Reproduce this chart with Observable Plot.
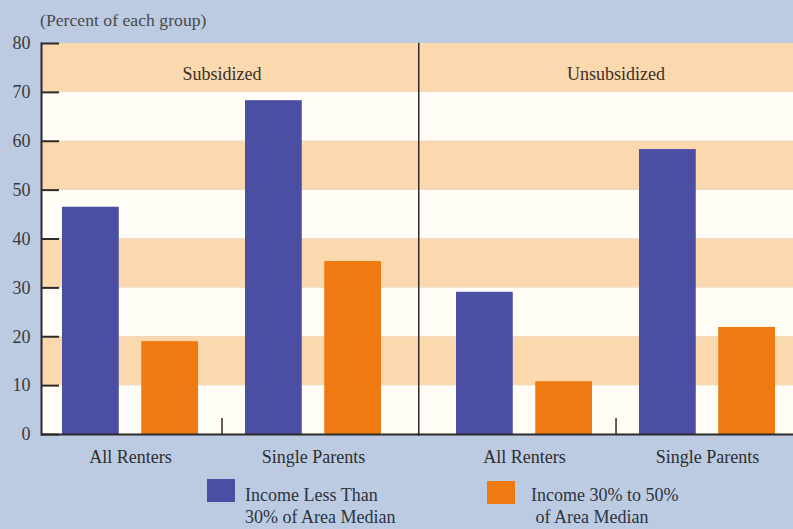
<!DOCTYPE html>
<html><head><meta charset="utf-8">
<script src="https://cdn.jsdelivr.net/npm/d3@7"></script>
<script src="https://cdn.jsdelivr.net/npm/@observablehq/plot@0.6"></script>
<style>
html,body{margin:0;padding:0;background:#bccbe2;width:793px;height:529px;overflow:hidden;font-family:"Liberation Serif",serif;}
#title{height:34px;position:relative;}
#title span{position:absolute;left:40px;top:11px;font-size:17.7px;line-height:18px;color:#4a4a4a;}
#chart{height:440px;}
#legend{position:relative;height:55px;}
.sw{position:absolute;width:28px;height:23px;}
.lbl{position:absolute;font-size:18px;line-height:22px;color:#2a3440;white-space:nowrap;}
</style>
</head><body>
<div id="title"><span>(Percent of each group)</span></div>
<div id="chart"></div>
<div id="legend"></div>
<script>
const panels = ["Subsidized", "Unsubsidized"];
const groups = ["All Renters", "Single Parents"];
const seriesNames = ["Income Less Than 30% of Area Median", "Income 30% to 50% of Area Median"];
const legendLines = [["Income Less Than", "30% of Area Median"], ["Income 30% to 50%", "of Area Median"]];
// order: Subsidized-All Renters, Subsidized-Single Parents, Unsubsidized-All Renters, Unsubsidized-Single Parents
const lessThan30 = [46.5, 68.3, 29.1, 58.3];
const from30to50 = [19.0, 35.4, 10.8, 21.9];
const yTicks = [0, 10, 20, 30, 40, 50, 60, 70, 80];
const seriesColors = ["#4a4fa3", "#f07a12"];
const bandColors = ["#fffdf6", "#fbd8ae"];

const rows = [];
panels.forEach((p, pi) => groups.forEach((g, gi) => {
  rows.push({panel: p, group: g, series: seriesNames[0], value: lessThan30[pi * 2 + gi]});
  rows.push({panel: p, group: g, series: seriesNames[1], value: from30to50[pi * 2 + gi]});
}));
const bands = [];
panels.forEach(p => yTicks.slice(0, -1).forEach((t, i) => bands.push({panel: p, lo: t, hi: yTicks[i + 1], k: i % 2})));

// layout
const width = 793, height = 440, mL = 41, mR = -3, mT = 9, mB = 40;
const fxPad = 0.085, xPadIn = 0.258, xPadOut = 0.115;
const frameW = width - mL - mR;
const fxStep = frameW / (panels.length - fxPad);
const facetW = fxStep * (1 - fxPad);
const fxGap = fxStep * fxPad;
const xStep = facetW / (groups.length - xPadIn + 2 * xPadOut);
const bw = xStep * (1 - xPadIn);
const barW = 56.5;
const innerH = height - mT - mB;
const ink = "#2b2b2b";
const bridge = fxGap / 2 + 1;

const bandMarks = [];
panels.forEach((p, pi) => {
  const ins = pi === 0 ? {insetRight: -bridge} : {insetLeft: -bridge};
  bandColors.forEach((c, k) => {
    bandMarks.push(Plot.rectY(bands.filter(d => d.panel === p && d.k === k), {fx: "panel", y1: "lo", y2: "hi", fill: c, ...ins}));
  });
});
const baseMarks = panels.map((p, pi) => Plot.ruleY([{panel: p, v: 0}], {fx: "panel", y: "v", stroke: ink, strokeWidth: 2, ...(pi === 0 ? {insetRight: -bridge} : {insetLeft: -bridge})}));

const chart = Plot.plot({
  width, height, marginLeft: mL, marginRight: mR, marginTop: mT, marginBottom: mB,
  style: {background: "none", fontFamily: "Liberation Serif, serif", fontSize: "18px", color: "#333", overflow: "visible"},
  fx: {domain: panels, paddingInner: fxPad, paddingOuter: 0, axis: null},
  x: {domain: groups, paddingInner: xPadIn, paddingOuter: xPadOut},
  y: {domain: [0, 80]},
  marks: [
    ...bandMarks,
    Plot.barY(rows.filter(d => d.series === seriesNames[0]), {fx: "panel", x: "group", y: "value", fill: seriesColors[0], insetRight: bw - barW}),
    Plot.barY(rows.filter(d => d.series === seriesNames[1]), {fx: "panel", x: "group", y: "value", fill: seriesColors[1], insetLeft: bw - barW}),
    Plot.ruleX(groups.slice(1), {x: d => d, dx: -xStep / 2, insetTop: innerH - 16, stroke: ink, strokeWidth: 1.5}),
    Plot.frame({anchor: "left", facetAnchor: "right", insetLeft: -fxGap / 2, stroke: ink, strokeWidth: 1.5}),
    Plot.frame({anchor: "left", facetAnchor: "left", stroke: ink, strokeWidth: 2}),
    ...baseMarks,
    Plot.axisY({ticks: yTicks, tickSize: -18, fill: "none", stroke: ink, strokeWidth: 2, label: null}),
    Plot.axisY({ticks: yTicks, tickSize: 0, tickPadding: 11, label: null, fontSize: 18, fill: "#3a3a3a"}),
    Plot.axisX({tickSize: 0, tickPadding: 16, label: null, fontSize: 18, fill: "#2e2e2e"}),
    Plot.text(panels, {fx: d => d, text: d => d, frameAnchor: "top", dy: 24, fontSize: 18, fill: "#3b3026"})
  ]
});
document.getElementById("chart").appendChild(chart);

// legend
const legend = document.getElementById("legend");
const legendPos = [{sx: 207, sy: 5, tx: 245, ty: 10}, {sx: 487, sy: 7, tx: 531, ty: 10}];
seriesNames.forEach((s, i) => {
  const p = legendPos[i];
  const sw = document.createElement("div");
  sw.className = "sw"; sw.style.left = p.sx + "px"; sw.style.top = p.sy + "px"; sw.style.background = seriesColors[i];
  legend.appendChild(sw);
  const lb = document.createElement("div");
  lb.className = "lbl"; lb.style.left = p.tx + "px"; lb.style.top = p.ty + "px";
  lb.innerHTML = legendLines[i][0] + "<br>" + (i === 1 ? "&nbsp;" : "") + legendLines[i][1];
  legend.appendChild(lb);
});
</script>
</body></html>
